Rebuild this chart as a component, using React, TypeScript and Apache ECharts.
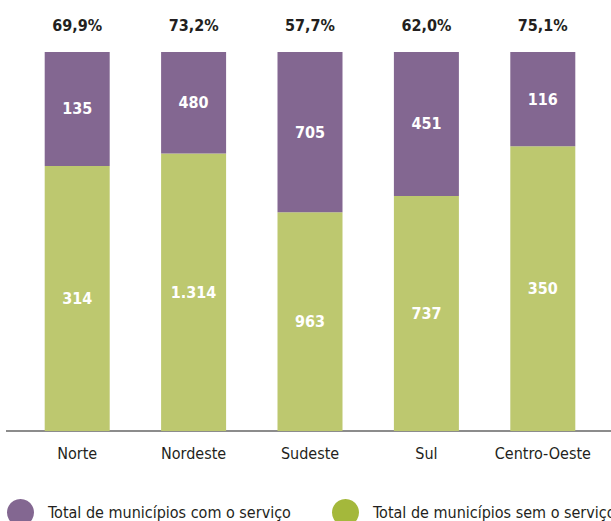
import React, { useEffect, useRef } from "react";
import * as echarts from "echarts";

const categories = ["Norte", "Nordeste", "Sudeste", "Sul", "Centro-Oeste"];
const semServico = [314, 1314, 963, 737, 350];
const comServico = [135, 480, 705, 451, 116];
const seriesNames = ["Total de municípios com o serviço", "Total de municípios sem o serviço"];

const FONT = "'Liberation Sans Narrow', 'DejaVu Sans Condensed', 'Roboto Condensed', sans-serif";
const fmtInt = (v: number) => v.toString().replace(/\B(?=(\d{3})+(?!\d))/g, ".");

export default function App() {
  const ref = useRef<HTMLDivElement>(null);
  useEffect(() => {
    const chart = echarts.init(ref.current!, null, { renderer: "svg" });
    const totals = categories.map((_, i) => semServico[i] + comServico[i]);
    const pctSem = semServico.map((v, i) => (v / totals[i]) * 100);
    const pctCom = comServico.map((v, i) => (v / totals[i]) * 100);
    const legendBase = {
      top: 499,
      padding: 0,
      itemWidth: 27,
      itemHeight: 27,
      icon: "circle",
      textStyle: { fontSize: 16, fontFamily: FONT, color: "#231f20", padding: [0, 0, 0, 9] },
    };
    chart.setOption({
      animation: false,
      backgroundColor: "#ffffff",
      grid: { left: 19, right: 10, top: 52, bottom: 90, containLabel: false },
      xAxis: {
        type: "category",
        data: categories,
        axisLine: { show: false },
        axisTick: { show: false },
        axisLabel: { color: "#231f20", fontSize: 16, fontFamily: FONT, margin: 14, interval: 0 },
      },
      yAxis: { type: "value", min: 0, max: 100, show: false, splitLine: { show: false } },
      legend: [
        { ...legendBase, left: 7, data: [{ name: seriesNames[0], itemStyle: { color: "#836791" } }] },
        { ...legendBase, left: 332, data: [{ name: seriesNames[1], itemStyle: { color: "#a4b83b" } }] },
      ],
      series: [
        {
          name: seriesNames[1],
          type: "bar",
          stack: "total",
          barWidth: 65,
          itemStyle: { color: "#bdc86f" },
          data: pctSem,
          label: {
            show: true,
            position: "inside",
            color: "#ffffff",
            fontSize: 16,
            fontWeight: "bold",
            fontFamily: FONT,
            formatter: (p: any) => fmtInt(semServico[p.dataIndex]),
          },
        },
        {
          name: seriesNames[0],
          type: "bar",
          stack: "total",
          barWidth: 65,
          itemStyle: { color: "#836791" },
          data: pctCom,
          label: {
            show: true,
            position: "inside",
            color: "#ffffff",
            fontSize: 16,
            fontWeight: "bold",
            fontFamily: FONT,
            formatter: (p: any) => fmtInt(comServico[p.dataIndex]),
          },
        },
        {
          name: "pct",
          type: "bar",
          stack: "total",
          barWidth: 65,
          itemStyle: { color: "transparent" },
          data: categories.map(() => 0),
          label: {
            show: true,
            position: "top",
            distance: 19,
            color: "#231f20",
            fontSize: 16,
            fontWeight: "bold",
            fontFamily: FONT,
            formatter: (p: any) => pctSem[p.dataIndex].toFixed(1).replace(".", ",") + "%",
          },
        },
      ],
      graphic: [
        {
          type: "line",
          shape: { x1: 6, y1: 431, x2: 611, y2: 431 },
          style: { stroke: "#8c8c8c", lineWidth: 2 },
        },
      ],
    });
    return () => chart.dispose();
  }, []);
  return <div ref={ref} style={{ position: "fixed", left: 0, top: 0, width: 611, height: 521 }} />;
}
